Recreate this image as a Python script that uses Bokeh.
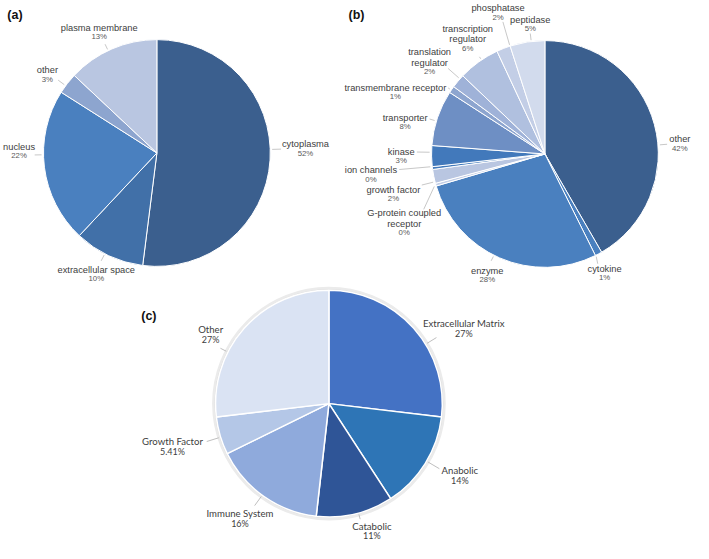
import math
from bokeh.plotting import figure
from bokeh.models import Range1d, ColumnDataSource
from bokeh.embed import file_html
from bokeh.resources import INLINE
from bokeh.core.properties import value

# ---------------- data ----------------
# (a) subcellular location
a_names = ["cytoplasma", "extracellular space", "nucleus", "other", "plasma membrane"]
a_values = [52, 10, 22, 3, 13]
a_pct = ["52%", "10%", "22%", "3%", "13%"]

# (b) molecule type
b_names = ["other", "cytokine", "enzyme", "G-protein coupled\nreceptor", "growth factor",
           "ion channels", "kinase", "transporter", "transmembrane receptor",
           "translation\nregulator", "transcription\nregulator", "phosphatase", "peptidase"]
b_values = [42, 1, 28, 0.4, 2, 0.4, 3, 8, 1, 2, 6, 2, 5]
b_pct = ["42%", "1%", "28%", "0%", "2%", "0%", "3%", "8%", "1%", "2%", "6%", "2%", "5%"]

# (c) functional category
c_names = ["Extracellular Matrix", "Anabolic", "Catabolic", "Immune System", "Growth Factor", "Other"]
c_values = [27, 14, 11, 16, 5.41, 27]
c_pct = ["27%", "14%", "11%", "16%", "5.41%", "27%"]

# ---------------- styles / layout ----------------
a_colors = ["#3b5f8e", "#4170a8", "#4a80bf", "#8da5cf", "#b9c6e1"]
b_colors = ["#3b5f8e", "#4a80bf", "#4a80bf", "#c3cee6", "#b9c6e1", "#4279bb", "#4279bb",
            "#6e8fc4", "#8da5cf", "#9fb2d8", "#b0c0df", "#c3cee6", "#d2dbed"]
c_colors = ["#4472c4", "#2e75b6", "#2f5597", "#8faadc", "#b4c7e7", "#dae3f3"]

# label block positions (x centre, first line y) and leader attach points, in reference pixels
a_lab = [(312, 148), (98, 277), (19, 151), (48, 72), (101, 28)]
a_att = [(287, 153), (103, 268), (35, 159), (59, 82), (107, 45)]
b_lab = [(695, 143), (618, 276), (498, 278), (413, 219), (402, 195), (379, 175), (410, 156),
         (414, 121), (404, 90), (439, 53), (478, 29), (509, 8), (542, 20)]
b_att = [(682, 148), (611, 271), (502, 268), (433, 215), (431, 190), (408, 174), (426, 156),
         (439, 122), (458, 90), (458, 70), (490, 58), (514, 22), (542, 34)]
c_lab = [(474, 333), (470, 484), (380, 541), (245, 528), (176, 454), (215, 339)]
c_att = [(446, 347), (449, 482), (368, 534), (260, 520), (211, 454), (225, 358)]

REF_W, REF_H = 709, 559
W, H = 693, 543

p = figure(width=W, height=H, x_range=Range1d(0, REF_W), y_range=Range1d(0, REF_H),
           output_backend="svg", toolbar_location=None, min_border=0)
p.axis.visible = False
p.grid.visible = False
p.outline_line_color = None


def Y(y):
    return REF_H - y


def draw_pie(cx, cy, r, names, values, pcts, colors, lab, att, font, nsize, psize,
             ncolor, pcolor, ngap, pgap, sepw, lead_color):
    total = float(sum(values))
    starts, ends = [], []
    cum = 0.0
    for v in values:
        starts.append(cum / total * 360.0)
        cum += v
        ends.append(cum / total * 360.0)
    src = ColumnDataSource(dict(
        start=[math.pi / 2 - math.radians(s) for s in starts],
        end=[math.pi / 2 - math.radians(e) for e in ends],
        color=colors))
    p.wedge(x=cx, y=Y(cy), radius=r, start_angle="start", end_angle="end", direction="clock",
            fill_color="color", line_color="white", line_width=sepw, source=src)

    x0, y0, x1, y1 = [], [], [], []
    for i in range(len(values)):
        ax, ay = att[i]
        th = math.degrees(math.atan2(ax - cx, -(ay - cy))) % 360.0
        th = min(max(th, starts[i]), ends[i])
        t = math.radians(th)
        ex = cx + (r + 2) * math.sin(t)
        ey = cy - (r + 2) * math.cos(t)
        x0.append(ax); y0.append(Y(ay)); x1.append(ex); y1.append(Y(ey))
    p.segment(x0=x0, y0=y0, x1=x1, y1=y1, line_color=lead_color, line_width=1)

    tx, ty, tt = [], [], []
    px, py, pt = [], [], []
    for i in range(len(values)):
        lx, ly = lab[i]
        lines = names[i].split("\n")
        for k, ln in enumerate(lines):
            tx.append(lx); ty.append(Y(ly + k * ngap)); tt.append(ln)
        px.append(lx); py.append(Y(ly + (len(lines) - 1) * ngap + pgap)); pt.append(pcts[i])
    p.text(x=tx, y=ty, text=tt, text_align="center", text_baseline="middle",
           text_font=value(font), text_font_size=nsize, text_color=ncolor)
    p.text(x=px, y=py, text=pt, text_align="center", text_baseline="middle",
           text_font=value(font), text_font_size=psize, text_color=pcolor)


# (c) soft outline behind pie
p.circle(x=[336], y=[Y(415)], radius=118, fill_color=None, line_color="#ebebeb", line_width=3)
p.circle(x=[336], y=[Y(415)], radius=116.5, fill_color=None, line_color="#d4d4d4", line_width=1)

draw_pie(160, 157, 116, a_names, a_values, a_pct, a_colors, a_lab, a_att,
         "Liberation Sans", "9.3px", "7.8px", "#404040", "#595959", 11, 9, 1, "#c8c8c8")
draw_pie(557, 158, 116, b_names, b_values, b_pct, b_colors, b_lab, b_att,
         "Liberation Sans", "9.3px", "7.8px", "#404040", "#595959", 11, 9, 1, "#c8c8c8")
draw_pie(336, 415, 116, c_names, c_values, c_pct, c_colors, c_lab, c_att,
         "Lato", "9.6px", "9px", "#404040", "#404040", 11, 10, 1.5, "#bfbfbf")

# panel letters
p.text(x=[7, 356, 144], y=[Y(15), Y(15), Y(325)], text=["(a)", "(b)", "(c)"],
       text_align="left", text_baseline="middle", text_font=value("Liberation Sans"),
       text_font_size="12.5px", text_font_style="bold", text_color="#111111")

open("out.html", "w").write(file_html(p, INLINE))
